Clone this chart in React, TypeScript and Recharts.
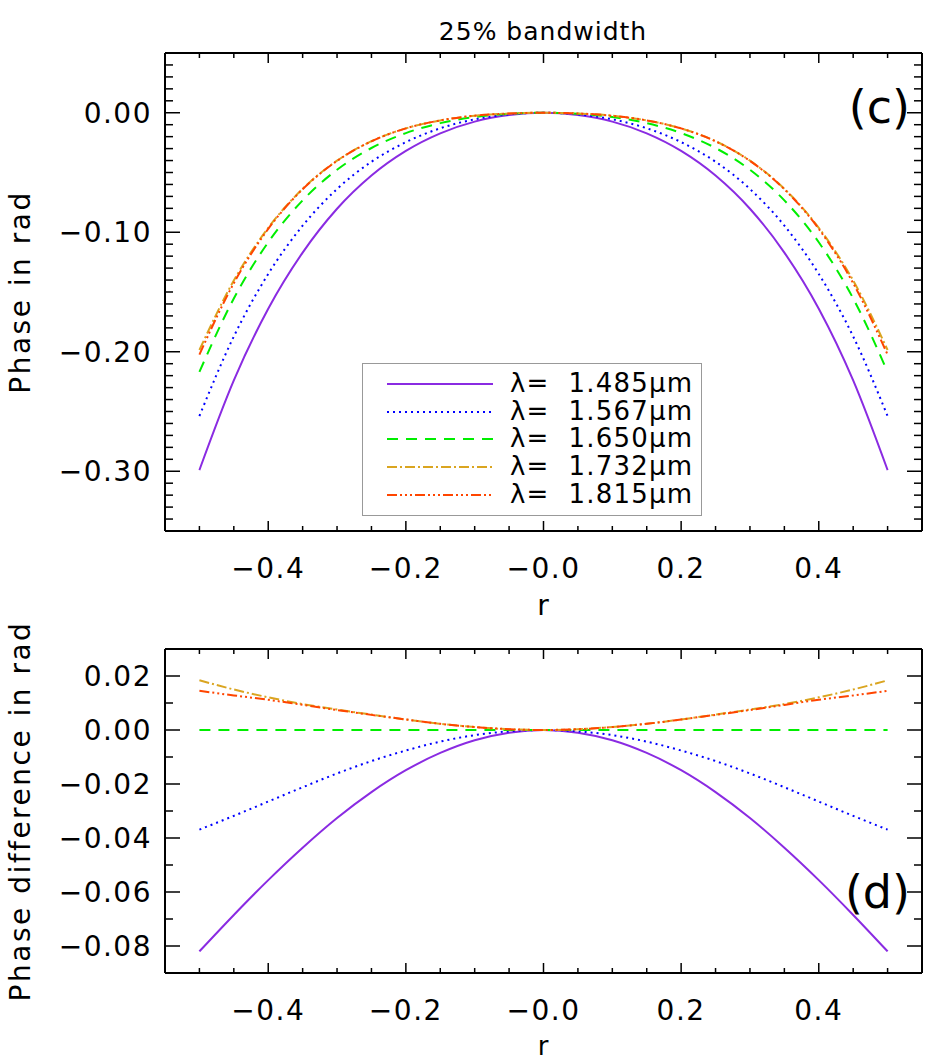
import React from 'react';
import { LineChart, Line, XAxis, YAxis, Legend } from 'recharts';

// r positions across the aperture
const rValues = [-0.5, -0.45, -0.4, -0.35, -0.3, -0.25, -0.2, -0.15, -0.1, -0.05, 0, 0.05, 0.1, 0.15, 0.2, 0.25, 0.3, 0.35, 0.4, 0.45, 0.5];

// panel (c): phase in rad, one array per wavelength
const phase1485 = [-0.299, -0.224, -0.164, -0.117, -0.0803, -0.0525, -0.0319, -0.0172, -0.0074, -0.0019, 0, -0.0019, -0.0074, -0.0172, -0.0319, -0.0525, -0.0803, -0.117, -0.164, -0.224, -0.299];
const phase1567 = [-0.2538, -0.1872, -0.1349, -0.0945, -0.0638, -0.041, -0.0246, -0.013, -0.0055, -0.0014, 0, -0.0014, -0.0055, -0.013, -0.0246, -0.041, -0.0638, -0.0945, -0.1349, -0.1872, -0.2538];
const phase1650 = [-0.2169, -0.1554, -0.1084, -0.0733, -0.0477, -0.0295, -0.017, -0.0087, -0.0036, -0.0009, 0, -0.0009, -0.0036, -0.0087, -0.017, -0.0295, -0.0477, -0.0733, -0.1084, -0.1554, -0.2169];
const phase1732 = [-0.1985, -0.1404, -0.0963, -0.0637, -0.0401, -0.0238, -0.0131, -0.0064, -0.0025, -0.0006, 0, -0.0006, -0.0025, -0.0064, -0.0131, -0.0238, -0.0401, -0.0637, -0.0963, -0.1404, -0.1985];
const phase1815 = [-0.2024, -0.1426, -0.0972, -0.064, -0.0403, -0.0239, -0.0131, -0.0064, -0.0025, -0.0006, 0, -0.0006, -0.0025, -0.0064, -0.0131, -0.0239, -0.0403, -0.064, -0.0972, -0.1426, -0.2024];

// panel (d): phase difference to 1.650um
const diff1485 = [-0.082, -0.0685, -0.0556, -0.0436, -0.0326, -0.023, -0.0149, -0.0085, -0.0038, -0.001, 0, -0.001, -0.0038, -0.0085, -0.0149, -0.023, -0.0326, -0.0436, -0.0556, -0.0685, -0.082];
const diff1567 = [-0.0369, -0.0318, -0.0265, -0.0212, -0.0161, -0.0115, -0.0076, -0.0043, -0.0019, -0.0005, 0, -0.0005, -0.0019, -0.0043, -0.0076, -0.0115, -0.0161, -0.0212, -0.0265, -0.0318, -0.0369];
const diff1650 = [0, 0, 0, 0, 0, 0, 0, 0, 0, 0, 0, 0, 0, 0, 0, 0, 0, 0, 0, 0, 0];
const diff1732 = [0.0184, 0.015, 0.0121, 0.0096, 0.0076, 0.0057, 0.0039, 0.0023, 0.0011, 0.0003, 0, 0.0003, 0.0011, 0.0023, 0.0039, 0.0057, 0.0076, 0.0096, 0.0121, 0.015, 0.0184];
const diff1815 = [0.0145, 0.0128, 0.0112, 0.0093, 0.0074, 0.0056, 0.0039, 0.0023, 0.0011, 0.0003, 0, 0.0003, 0.0011, 0.0023, 0.0039, 0.0056, 0.0074, 0.0093, 0.0112, 0.0128, 0.0145];

const wavelengths = ['1.485', '1.567', '1.650', '1.732', '1.815'];

// ticks
const xAllTicks = [-0.5, -0.45, -0.4, -0.35, -0.3, -0.25, -0.2, -0.15, -0.1, -0.05, 0, 0.05, 0.1, 0.15, 0.2, 0.25, 0.3, 0.35, 0.4, 0.45, 0.5];
const xMajorTicks = [-0.4, -0.2, 0, 0.2, 0.4];
const xTickLabels = ['−0.4', '−0.2', '−0.0', '0.2', '0.4'];

const phaseAllTicks = [0.04, 0.03, 0.02, 0.01, 0, -0.01, -0.02, -0.03, -0.04, -0.05, -0.06, -0.07, -0.08, -0.09, -0.1, -0.11, -0.12, -0.13, -0.14, -0.15, -0.16, -0.17, -0.18, -0.19, -0.2, -0.21, -0.22, -0.23, -0.24, -0.25, -0.26, -0.27, -0.28, -0.29, -0.3, -0.31, -0.32, -0.33, -0.34];
const phaseMajorTicks = [0, -0.1, -0.2, -0.3];
const phaseTickLabels = ['0.00', '−0.10', '−0.20', '−0.30'];

const diffAllTicks = [0.02, 0.01, 0, -0.01, -0.02, -0.03, -0.04, -0.05, -0.06, -0.07, -0.08];
const diffMajorTicks = [0.02, 0, -0.02, -0.04, -0.06, -0.08];
const diffTickLabels = ['0.02', '0.00', '−0.02', '−0.04', '−0.06', '−0.08'];

const phaseRows = rValues.map((r, i) => ({
  r,
  w1485: phase1485[i],
  w1567: phase1567[i],
  w1650: phase1650[i],
  w1732: phase1732[i],
  w1815: phase1815[i],
}));

const diffRows = rValues.map((r, i) => ({
  r,
  w1485: diff1485[i],
  w1567: diff1567[i],
  w1650: diff1650[i],
  w1732: diff1732[i],
  w1815: diff1815[i],
}));

const FONT = "'DejaVu Sans', sans-serif";

const seriesStyle = [
  { key: 'w1485', color: '#8A2BE2', dash: undefined },
  { key: 'w1567', color: '#0000FF', dash: '2 4' },
  { key: 'w1650', color: '#00EE00', dash: '11 8' },
  { key: 'w1732', color: '#DAA520', dash: '10 3 2 3' },
  { key: 'w1815', color: '#FF4500', dash: '10 3 2 3 2 3 2 3' },
];

const findMajor = (majors: number[], v: number) => majors.findIndex((m) => Math.abs(m - v) < 1e-6);

// tick lines point inward; labels only on bottom / left
const makeXTick = (side: 'top' | 'bottom') => (props: any) => {
  const { x, y, payload } = props;
  const idx = findMajor(xMajorTicks, payload.value);
  const len = idx >= 0 ? 10 : 5;
  const dir = side === 'bottom' ? -1 : 1;
  return (
    <g>
      <line x1={x} y1={y} x2={x} y2={y + dir * len} stroke="#000" strokeWidth={1.5} />
      {side === 'bottom' && idx >= 0 && (
        <text x={x} y={y + 47} textAnchor="middle" fontSize={28} fontFamily={FONT} letterSpacing={1.5} fill="#000">
          {xTickLabels[idx]}
        </text>
      )}
    </g>
  );
};

const makeYTick = (majors: number[], labels: string[], side: 'left' | 'right') => (props: any) => {
  const { x, y, payload } = props;
  const idx = findMajor(majors, payload.value);
  const len = idx >= 0 ? 15 : 8;
  const dir = side === 'left' ? 1 : -1;
  return (
    <g>
      <line x1={x} y1={y} x2={x + dir * len} y2={y} stroke="#000" strokeWidth={1.5} />
      {side === 'left' && idx >= 0 && (
        <text x={x - 13} y={y + 10} textAnchor="end" fontSize={28} fontFamily={FONT} letterSpacing={1.5} fill="#000">
          {labels[idx]}
        </text>
      )}
    </g>
  );
};

const frameLine = { stroke: '#000', strokeWidth: 2 };

const renderLegend = () => (
  <div
    style={{
      width: 340,
      height: 153,
      boxSizing: 'border-box',
      border: '1.5px solid #999',
      background: '#fff',
      paddingTop: 6,
      paddingLeft: 24,
      fontFamily: FONT,
    }}
  >
    {seriesStyle.map((s, i) => (
      <div key={s.key} style={{ display: 'flex', alignItems: 'center', height: 27.7 }}>
        <svg width={106} height={6}>
          <line x1={0} y1={3} x2={106} y2={3} stroke={s.color} strokeWidth={2} strokeDasharray={s.dash} />
        </svg>
        <span style={{ marginLeft: 17, fontSize: 26, lineHeight: '27.7px', whiteSpace: 'pre', letterSpacing: 1.2, color: '#000' }}>
          {'λ=  ' + wavelengths[i] + 'μm'}
        </span>
      </div>
    ))}
  </div>
);

const Panel = ({
  rows,
  height,
  margin,
  yDomain,
  yTicks,
  yMajors,
  yLabels,
  withLegend,
}: {
  rows: any[];
  height: number;
  margin: { top: number; right: number; bottom: number; left: number };
  yDomain: number[];
  yTicks: number[];
  yMajors: number[];
  yLabels: string[];
  withLegend: boolean;
}) => (
  <LineChart width={945} height={height} data={rows} margin={margin}>
    <XAxis
      xAxisId="b"
      type="number"
      dataKey="r"
      orientation="bottom"
      domain={[-0.55, 0.55]}
      allowDataOverflow
      ticks={xAllTicks}
      interval={0}
      height={1}
      tickSize={0}
      tickMargin={0}
      tickLine={false}
      axisLine={frameLine}
      tick={makeXTick('bottom')}
    />
    <XAxis
      xAxisId="t"
      type="number"
      dataKey="r"
      orientation="top"
      domain={[-0.55, 0.55]}
      allowDataOverflow
      ticks={xAllTicks}
      interval={0}
      height={1}
      tickSize={0}
      tickMargin={0}
      tickLine={false}
      axisLine={frameLine}
      tick={makeXTick('top')}
    />
    <YAxis
      yAxisId="l"
      type="number"
      orientation="left"
      domain={yDomain}
      allowDataOverflow
      ticks={yTicks}
      interval={0}
      width={1}
      tickSize={0}
      tickMargin={0}
      tickLine={false}
      axisLine={frameLine}
      tick={makeYTick(yMajors, yLabels, 'left')}
    />
    <YAxis
      yAxisId="r"
      type="number"
      orientation="right"
      domain={yDomain}
      allowDataOverflow
      ticks={yTicks}
      interval={0}
      width={1}
      tickSize={0}
      tickMargin={0}
      tickLine={false}
      axisLine={frameLine}
      tick={makeYTick(yMajors, yLabels, 'right')}
    />
    {withLegend && (
      <Legend
        layout="horizontal"
        verticalAlign="middle"
        align="center"
        content={renderLegend}
        wrapperStyle={{ left: 362, top: 363, width: 340, height: 153 }}
      />
    )}
    {seriesStyle.map((s, i) => (
      <Line
        key={s.key}
        xAxisId="b"
        yAxisId="l"
        dataKey={s.key}
        name={wavelengths[i]}
        type="monotone"
        stroke={s.color}
        strokeWidth={2}
        strokeDasharray={s.dash}
        dot={false}
        activeDot={false}
        isAnimationActive={false}
      />
    ))}
  </LineChart>
);

export default function App() {
  return (
    <div style={{ position: 'absolute', left: 0, top: 0, width: 945, height: 1063, background: '#fff' }}>
      <div style={{ position: 'absolute', left: 0, top: 0 }}>
        <Panel
          rows={phaseRows}
          height={620}
          margin={{ top: 52, right: 22, bottom: 88, left: 164 }}
          yDomain={[-0.35, 0.05]}
          yTicks={phaseAllTicks}
          yMajors={phaseMajorTicks}
          yLabels={phaseTickLabels}
          withLegend
        />
      </div>
      <div style={{ position: 'absolute', left: 0, top: 620 }}>
        <Panel
          rows={diffRows}
          height={443}
          margin={{ top: 28, right: 22, bottom: 89, left: 164 }}
          yDomain={[-0.09, 0.03]}
          yTicks={diffAllTicks}
          yMajors={diffMajorTicks}
          yLabels={diffTickLabels}
          withLegend={false}
        />
      </div>
      <svg width={945} height={1063} style={{ position: 'absolute', left: 0, top: 0, pointerEvents: 'none' }} fontFamily={FONT}>
        <text x={543} y={40} textAnchor="middle" fontSize={25} letterSpacing={1}>
          25% bandwidth
        </text>
        <text x={910} y={123} textAnchor="end" fontSize={46}>
          (c)
        </text>
        <text x={910} y={908} textAnchor="end" fontSize={46}>
          (d)
        </text>
        <text x={543} y={615} textAnchor="middle" fontSize={28}>
          r
        </text>
        <text x={543} y={1055} textAnchor="middle" fontSize={26}>
          r
        </text>
        <text x={30} y={292} transform="rotate(-90, 30, 292)" textAnchor="middle" fontSize={28} letterSpacing={2.5}>
          Phase in rad
        </text>
        <text x={30} y={811} transform="rotate(-90, 30, 811)" textAnchor="middle" fontSize={28} letterSpacing={2.5}>
          Phase difference in rad
        </text>
      </svg>
    </div>
  );
}
